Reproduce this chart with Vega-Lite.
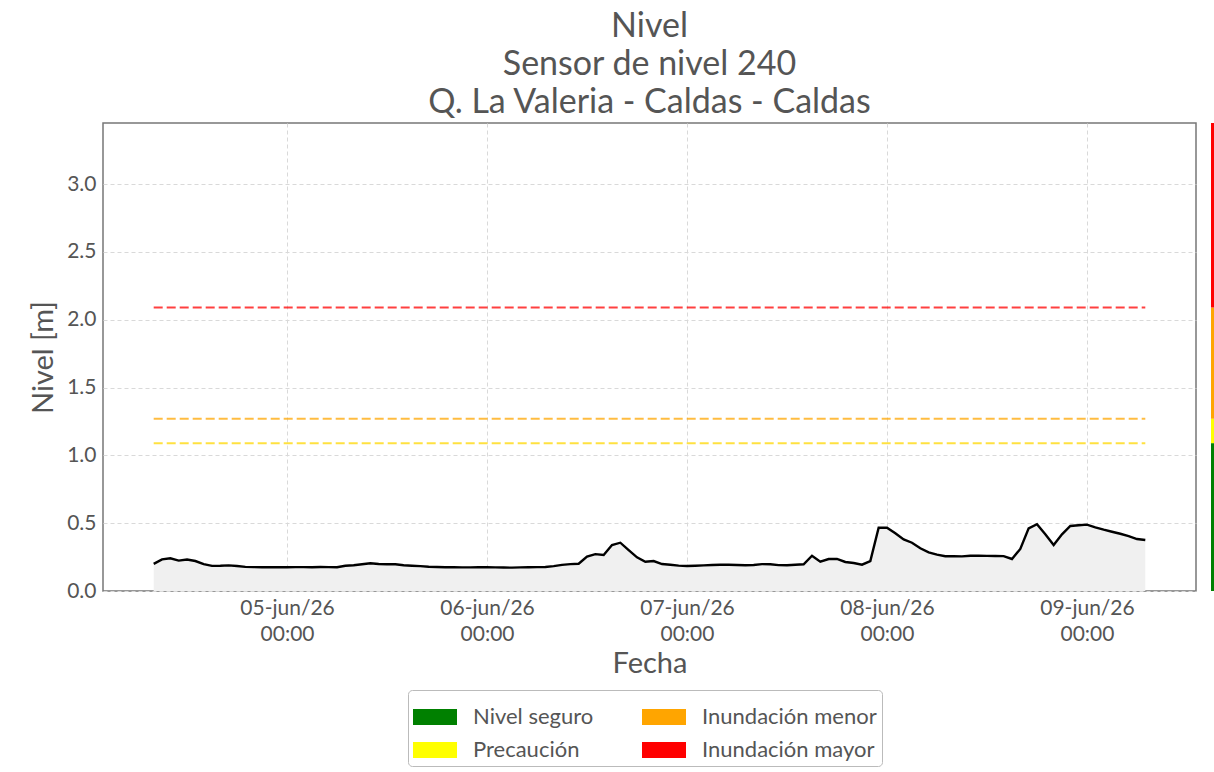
{
  "$schema": "https://vega.github.io/schema/vega-lite/v6.json",
  "background": "white",
  "padding": {"left": 28, "top": 9, "right": 0, "bottom": 0},
  "config": {
    "font": "Lato",
    "locale": {
      "time": {
        "dateTime": "%A, %e de %B de %Y, %X",
        "date": "%d/%m/%Y",
        "time": "%H:%M:%S",
        "periods": ["AM", "PM"],
        "days": ["domingo", "lunes", "martes", "miércoles", "jueves", "viernes", "sábado"],
        "shortDays": ["dom", "lun", "mar", "mié", "jue", "vie", "sáb"],
        "months": ["enero", "febrero", "marzo", "abril", "mayo", "junio", "julio", "agosto", "septiembre", "octubre", "noviembre", "diciembre"],
        "shortMonths": ["ene", "feb", "mar", "abr", "may", "jun", "jul", "ago", "sep", "oct", "nov", "dic"]
      }
    },
    "view": {"stroke": "#777777", "strokeWidth": 1.5},
    "axis": {
      "labelFont": "Lato",
      "labelFontSize": 21,
      "labelColor": "#555555",
      "titleFont": "Lato",
      "titleFontSize": 29,
      "titleFontWeight": "normal",
      "titleColor": "#555555",
      "gridColor": "#d9d9d9",
      "gridDash": [4, 3],
      "gridWidth": 1,
      "domain": false,
      "ticks": false
    },
    "concat": {"spacing": 14}
  },
  "datasets": {
    "serie": [
      {"fecha": "2026-06-04T08:00:00", "nivel": 0.200},
      {"fecha": "2026-06-04T09:00:00", "nivel": 0.233},
      {"fecha": "2026-06-04T10:00:00", "nivel": 0.241},
      {"fecha": "2026-06-04T11:00:00", "nivel": 0.224},
      {"fecha": "2026-06-04T12:00:00", "nivel": 0.232},
      {"fecha": "2026-06-04T13:00:00", "nivel": 0.221},
      {"fecha": "2026-06-04T14:00:00", "nivel": 0.198},
      {"fecha": "2026-06-04T15:00:00", "nivel": 0.185},
      {"fecha": "2026-06-04T16:00:00", "nivel": 0.186},
      {"fecha": "2026-06-04T17:00:00", "nivel": 0.189},
      {"fecha": "2026-06-04T18:00:00", "nivel": 0.184},
      {"fecha": "2026-06-04T19:00:00", "nivel": 0.178},
      {"fecha": "2026-06-04T20:00:00", "nivel": 0.176},
      {"fecha": "2026-06-04T21:00:00", "nivel": 0.175},
      {"fecha": "2026-06-04T22:00:00", "nivel": 0.175},
      {"fecha": "2026-06-04T23:00:00", "nivel": 0.175},
      {"fecha": "2026-06-05T00:00:00", "nivel": 0.175},
      {"fecha": "2026-06-05T01:00:00", "nivel": 0.176},
      {"fecha": "2026-06-05T02:00:00", "nivel": 0.176},
      {"fecha": "2026-06-05T03:00:00", "nivel": 0.175},
      {"fecha": "2026-06-05T04:00:00", "nivel": 0.177},
      {"fecha": "2026-06-05T05:00:00", "nivel": 0.176},
      {"fecha": "2026-06-05T06:00:00", "nivel": 0.175},
      {"fecha": "2026-06-05T07:00:00", "nivel": 0.186},
      {"fecha": "2026-06-05T08:00:00", "nivel": 0.190},
      {"fecha": "2026-06-05T09:00:00", "nivel": 0.197},
      {"fecha": "2026-06-05T10:00:00", "nivel": 0.204},
      {"fecha": "2026-06-05T11:00:00", "nivel": 0.199},
      {"fecha": "2026-06-05T12:00:00", "nivel": 0.197},
      {"fecha": "2026-06-05T13:00:00", "nivel": 0.197},
      {"fecha": "2026-06-05T14:00:00", "nivel": 0.190},
      {"fecha": "2026-06-05T15:00:00", "nivel": 0.186},
      {"fecha": "2026-06-05T16:00:00", "nivel": 0.183},
      {"fecha": "2026-06-05T17:00:00", "nivel": 0.179},
      {"fecha": "2026-06-05T18:00:00", "nivel": 0.177},
      {"fecha": "2026-06-05T19:00:00", "nivel": 0.175},
      {"fecha": "2026-06-05T20:00:00", "nivel": 0.175},
      {"fecha": "2026-06-05T21:00:00", "nivel": 0.174},
      {"fecha": "2026-06-05T22:00:00", "nivel": 0.174},
      {"fecha": "2026-06-05T23:00:00", "nivel": 0.175},
      {"fecha": "2026-06-06T00:00:00", "nivel": 0.175},
      {"fecha": "2026-06-06T01:00:00", "nivel": 0.174},
      {"fecha": "2026-06-06T02:00:00", "nivel": 0.173},
      {"fecha": "2026-06-06T03:00:00", "nivel": 0.172},
      {"fecha": "2026-06-06T04:00:00", "nivel": 0.174},
      {"fecha": "2026-06-06T05:00:00", "nivel": 0.175},
      {"fecha": "2026-06-06T06:00:00", "nivel": 0.176},
      {"fecha": "2026-06-06T07:00:00", "nivel": 0.177},
      {"fecha": "2026-06-06T08:00:00", "nivel": 0.183},
      {"fecha": "2026-06-06T09:00:00", "nivel": 0.193},
      {"fecha": "2026-06-06T10:00:00", "nivel": 0.198},
      {"fecha": "2026-06-06T11:00:00", "nivel": 0.201},
      {"fecha": "2026-06-06T12:00:00", "nivel": 0.253},
      {"fecha": "2026-06-06T13:00:00", "nivel": 0.272},
      {"fecha": "2026-06-06T14:00:00", "nivel": 0.265},
      {"fecha": "2026-06-06T15:00:00", "nivel": 0.339},
      {"fecha": "2026-06-06T16:00:00", "nivel": 0.356},
      {"fecha": "2026-06-06T17:00:00", "nivel": 0.302},
      {"fecha": "2026-06-06T18:00:00", "nivel": 0.248},
      {"fecha": "2026-06-06T19:00:00", "nivel": 0.216},
      {"fecha": "2026-06-06T20:00:00", "nivel": 0.221},
      {"fecha": "2026-06-06T21:00:00", "nivel": 0.199},
      {"fecha": "2026-06-06T22:00:00", "nivel": 0.193},
      {"fecha": "2026-06-06T23:00:00", "nivel": 0.187},
      {"fecha": "2026-06-07T00:00:00", "nivel": 0.184},
      {"fecha": "2026-06-07T01:00:00", "nivel": 0.186},
      {"fecha": "2026-06-07T02:00:00", "nivel": 0.189},
      {"fecha": "2026-06-07T03:00:00", "nivel": 0.192},
      {"fecha": "2026-06-07T04:00:00", "nivel": 0.193},
      {"fecha": "2026-06-07T05:00:00", "nivel": 0.193},
      {"fecha": "2026-06-07T06:00:00", "nivel": 0.192},
      {"fecha": "2026-06-07T07:00:00", "nivel": 0.190},
      {"fecha": "2026-06-07T08:00:00", "nivel": 0.192},
      {"fecha": "2026-06-07T09:00:00", "nivel": 0.198},
      {"fecha": "2026-06-07T10:00:00", "nivel": 0.197},
      {"fecha": "2026-06-07T11:00:00", "nivel": 0.191},
      {"fecha": "2026-06-07T12:00:00", "nivel": 0.190},
      {"fecha": "2026-06-07T13:00:00", "nivel": 0.193},
      {"fecha": "2026-06-07T14:00:00", "nivel": 0.197},
      {"fecha": "2026-06-07T15:00:00", "nivel": 0.260},
      {"fecha": "2026-06-07T16:00:00", "nivel": 0.216},
      {"fecha": "2026-06-07T17:00:00", "nivel": 0.236},
      {"fecha": "2026-06-07T18:00:00", "nivel": 0.236},
      {"fecha": "2026-06-07T19:00:00", "nivel": 0.214},
      {"fecha": "2026-06-07T20:00:00", "nivel": 0.206},
      {"fecha": "2026-06-07T21:00:00", "nivel": 0.194},
      {"fecha": "2026-06-07T22:00:00", "nivel": 0.221},
      {"fecha": "2026-06-07T23:00:00", "nivel": 0.466},
      {"fecha": "2026-06-08T00:00:00", "nivel": 0.466},
      {"fecha": "2026-06-08T01:00:00", "nivel": 0.425},
      {"fecha": "2026-06-08T02:00:00", "nivel": 0.380},
      {"fecha": "2026-06-08T03:00:00", "nivel": 0.356},
      {"fecha": "2026-06-08T04:00:00", "nivel": 0.315},
      {"fecha": "2026-06-08T05:00:00", "nivel": 0.285},
      {"fecha": "2026-06-08T06:00:00", "nivel": 0.268},
      {"fecha": "2026-06-08T07:00:00", "nivel": 0.256},
      {"fecha": "2026-06-08T08:00:00", "nivel": 0.256},
      {"fecha": "2026-06-08T09:00:00", "nivel": 0.255},
      {"fecha": "2026-06-08T10:00:00", "nivel": 0.260},
      {"fecha": "2026-06-08T11:00:00", "nivel": 0.260},
      {"fecha": "2026-06-08T12:00:00", "nivel": 0.259},
      {"fecha": "2026-06-08T13:00:00", "nivel": 0.258},
      {"fecha": "2026-06-08T14:00:00", "nivel": 0.257},
      {"fecha": "2026-06-08T15:00:00", "nivel": 0.236},
      {"fecha": "2026-06-08T16:00:00", "nivel": 0.310},
      {"fecha": "2026-06-08T17:00:00", "nivel": 0.462},
      {"fecha": "2026-06-08T18:00:00", "nivel": 0.492},
      {"fecha": "2026-06-08T19:00:00", "nivel": 0.418},
      {"fecha": "2026-06-08T20:00:00", "nivel": 0.339},
      {"fecha": "2026-06-08T21:00:00", "nivel": 0.418},
      {"fecha": "2026-06-08T22:00:00", "nivel": 0.479},
      {"fecha": "2026-06-08T23:00:00", "nivel": 0.485},
      {"fecha": "2026-06-09T00:00:00", "nivel": 0.489},
      {"fecha": "2026-06-09T01:00:00", "nivel": 0.469},
      {"fecha": "2026-06-09T02:00:00", "nivel": 0.452},
      {"fecha": "2026-06-09T03:00:00", "nivel": 0.437},
      {"fecha": "2026-06-09T04:00:00", "nivel": 0.422},
      {"fecha": "2026-06-09T05:00:00", "nivel": 0.405},
      {"fecha": "2026-06-09T06:00:00", "nivel": 0.383},
      {"fecha": "2026-06-09T07:00:00", "nivel": 0.376}
    ],
    "umbrales": [
      {"categoria": "Precaución", "nivel": 1.09, "inicio": "2026-06-04T08:00:00", "fin": "2026-06-09T07:00:00"},
      {"categoria": "Inundación menor", "nivel": 1.27, "inicio": "2026-06-04T08:00:00", "fin": "2026-06-09T07:00:00"},
      {"categoria": "Inundación mayor", "nivel": 2.09, "inicio": "2026-06-04T08:00:00", "fin": "2026-06-09T07:00:00"}
    ],
    "franjas": [
      {"categoria": "Nivel seguro", "desde": 0, "hasta": 1.09},
      {"categoria": "Precaución", "desde": 1.09, "hasta": 1.27},
      {"categoria": "Inundación menor", "desde": 1.27, "hasta": 2.09},
      {"categoria": "Inundación mayor", "desde": 2.09, "hasta": 3.45}
    ]
  },
  "hconcat": [
    {
      "width": 1093,
      "height": 468,
      "title": {
        "text": ["Nivel", "Sensor de nivel 240", "Q. La Valeria - Caldas - Caldas"],
        "font": "Lato",
        "fontSize": 34,
        "fontWeight": "normal",
        "color": "#555555",
        "lineHeight": 38,
        "offset": 3,
        "anchor": "middle",
        "frame": "group"
      },
      "layer": [
        {
          "data": {"name": "serie"},
          "mark": {"type": "area", "color": "#f0f0f0"},
          "encoding": {
            "x": {
              "field": "fecha",
              "type": "temporal",
              "title": "Fecha",
              "scale": {"domain": [
                {"year": 2026, "month": 6, "date": 4, "hours": 1, "minutes": 55},
                {"year": 2026, "month": 6, "date": 9, "hours": 13, "minutes": 5}
              ]},
              "axis": {
                "values": [
                  {"year": 2026, "month": 6, "date": 5},
                  {"year": 2026, "month": 6, "date": 6},
                  {"year": 2026, "month": 6, "date": 7},
                  {"year": 2026, "month": 6, "date": 8},
                  {"year": 2026, "month": 6, "date": 9}
                ],
                "labelExpr": "[timeFormat(datum.value, '%d-%b/%y'), timeFormat(datum.value, '%H:%M')]",
                "labelLineHeight": 26,
                "labelPadding": 6,
                "titlePadding": 5
              }
            },
            "y": {
              "field": "nivel",
              "type": "quantitative",
              "title": "Nivel [m]",
              "scale": {"domain": [0, 3.45], "nice": false},
              "axis": {"values": [0, 0.5, 1, 1.5, 2, 2.5, 3], "format": ".1f", "labelPadding": 7, "titlePadding": 8}
            }
          }
        },
        {
          "data": {"name": "serie"},
          "mark": {"type": "line", "color": "black", "strokeWidth": 2.4},
          "encoding": {
            "x": {"field": "fecha", "type": "temporal"},
            "y": {"field": "nivel", "type": "quantitative"}
          }
        },
        {
          "data": {"name": "umbrales"},
          "mark": {"type": "rule", "strokeDash": [9, 4], "strokeWidth": 2, "strokeOpacity": 0.75},
          "encoding": {
            "x": {"field": "inicio", "type": "temporal"},
            "x2": {"field": "fin"},
            "y": {"field": "nivel", "type": "quantitative"},
            "stroke": {
              "field": "categoria",
              "type": "nominal",
              "scale": {"domain": ["Precaución", "Inundación menor", "Inundación mayor"], "range": ["#ffd700", "#ffa500", "#ff0000"]},
              "legend": null
            }
          }
        }
      ]
    },
    {
      "width": 3,
      "height": 468,
      "view": {"stroke": null},
      "data": {"name": "franjas"},
      "mark": {"type": "rect"},
      "encoding": {
        "y": {"field": "desde", "type": "quantitative", "scale": {"domain": [0, 3.45], "nice": false}, "axis": null},
        "y2": {"field": "hasta"},
        "color": {
          "field": "categoria",
          "type": "nominal",
          "scale": {
            "domain": ["Nivel seguro", "Precaución", "Inundación menor", "Inundación mayor"],
            "range": ["#008000", "#ffff00", "#ffa500", "#ff0000"]
          },
          "legend": {
            "orient": "none",
            "legendX": 305,
            "legendY": 567,
            "columns": 2,
            "title": null,
            "symbolType": "M-1,-0.364L1,-0.364L1,0.364L-1,0.364Z",
            "symbolSize": 1936,
            "symbolStrokeWidth": 0,
            "symbolOpacity": 1,
            "labelFont": "Lato",
            "labelFontSize": 22,
            "labelColor": "#555555",
            "labelOffset": 16,
            "labelLimit": 300,
            "rowPadding": -11,
            "columnPadding": 48,
            "padding": 5,
            "strokeColor": "#bbbbbb",
            "fillColor": "white",
            "cornerRadius": 4
          }
        }
      }
    }
  ]
}
